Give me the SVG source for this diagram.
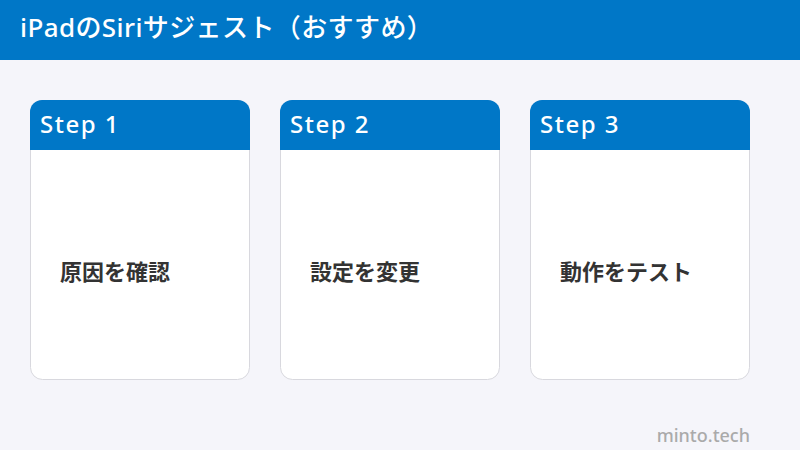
<svg xmlns="http://www.w3.org/2000/svg" width="800" height="450" viewBox="0 0 800 450">
<defs>
<style>
.card{fill:#FFFFFF;stroke:#D8D8DE;stroke-width:1}
.head{fill:#0077C7}
.step{font-family:"Noto Sans","Noto Sans CJK JP",sans-serif;font-size:24px;font-weight:500;fill:#FFFFFF;letter-spacing:1.5px}
.body{font-family:"Noto Sans CJK JP",sans-serif;font-size:22px;font-weight:700;fill:#333333}
</style>
<clipPath id="c1"><rect x="30" y="100" width="220" height="280" rx="12"/></clipPath>
<clipPath id="c2"><rect x="280" y="100" width="220" height="280" rx="12"/></clipPath>
<clipPath id="c3"><rect x="530" y="100" width="220" height="280" rx="12"/></clipPath>
</defs>
<rect x="0" y="0" width="800" height="450" fill="#F5F5FA"/>
<rect x="0" y="0" width="800" height="60" fill="#0077C7"/>
<text x="20" y="37" font-family="'Noto Sans','Noto Sans CJK JP',sans-serif" font-size="26" font-weight="500" letter-spacing="0.4" fill="#FFFFFF">iPadのSiriサジェスト（おすすめ）</text>
<g id="step1">
<rect class="card" x="30.5" y="100.5" width="219" height="279" rx="12"/>
<rect class="head" x="30" y="100" width="220" height="50" clip-path="url(#c1)"/>
<text class="step" x="40" y="133">Step 1</text>
<text class="body" x="60" y="280">原因を確認</text>
</g>
<g id="step2">
<rect class="card" x="280.5" y="100.5" width="219" height="279" rx="12"/>
<rect class="head" x="280" y="100" width="220" height="50" clip-path="url(#c2)"/>
<text class="step" x="290" y="133">Step 2</text>
<text class="body" x="310" y="280">設定を変更</text>
</g>
<g id="step3">
<rect class="card" x="530.5" y="100.5" width="219" height="279" rx="12"/>
<rect class="head" x="530" y="100" width="220" height="50" clip-path="url(#c3)"/>
<text class="step" x="540" y="133">Step 3</text>
<text class="body" x="560" y="280">動作をテスト</text>
</g>
<g id="connectors"></g>
<text x="750" y="442" text-anchor="end" font-family="'Noto Sans','Noto Sans CJK JP',sans-serif" font-size="18" font-weight="500" fill="#AAAAAA">minto.tech</text>
</svg>
